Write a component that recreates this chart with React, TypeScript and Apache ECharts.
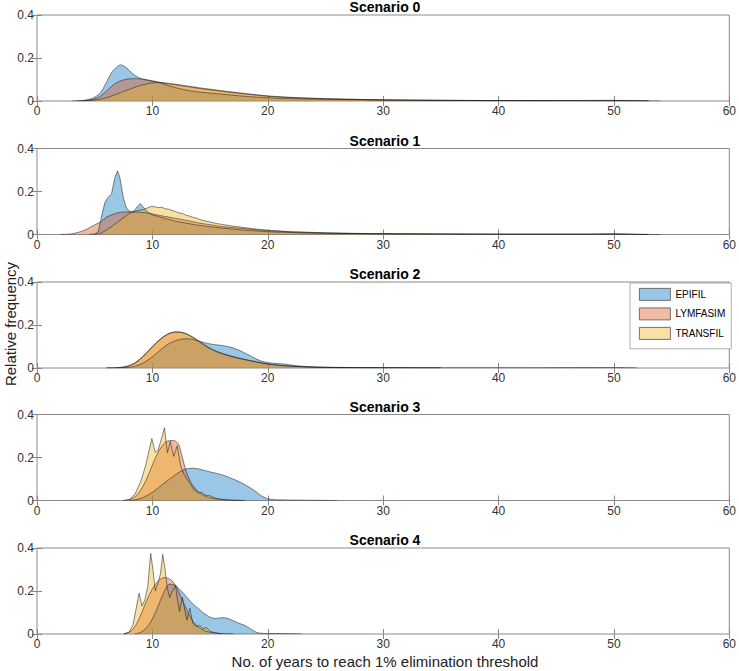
import React, { useEffect, useRef } from "react";
import * as echarts from "echarts";

const SCENARIOS = ["Scenario 0", "Scenario 1", "Scenario 2", "Scenario 3", "Scenario 4"];
const MODELS = ["EPIFIL", "LYMFASIM", "TRANSFIL"];
const MODEL_COLORS = ["#0072BD", "#D95319", "#EDB120"];
const LEGEND_COLORS = ["#99C7E5", "#F0BAA3", "#F8E0A6"];
const X_TITLE = "No. of years to reach 1% elimination threshold";
const Y_TITLE = "Relative frequency";

// Scenario 0
const S0_EPIFIL = [[3,0],[4,0.002],[4.5,0.007],[5,0.018],[5.5,0.038],[6,0.085],[6.5,0.135],[7,0.162],[7.25,0.168],[7.6,0.16],[8,0.142],[8.4,0.122],[9,0.104],[10,0.092],[10.5,0.087],[11,0.078],[12,0.062],[13,0.05],[14,0.042],[16,0.032],[18,0.022],[20,0.015],[22,0.011],[25,0.008],[30,0.005],[35,0.003],[40,0.002],[45,0.002],[50,0.003],[52,0.001],[54,0]];
const S0_LYMFASIM = [[3.5,0],[4,0.002],[4.5,0.005],[5,0.01],[5.5,0.022],[6,0.045],[6.5,0.07],[7,0.088],[7.5,0.098],[8,0.103],[8.5,0.104],[9,0.103],[9.5,0.099],[10,0.094],[10.5,0.088],[11,0.083],[12,0.075],[13,0.067],[14,0.059],[16,0.045],[18,0.033],[20,0.022],[22,0.016],[25,0.01],[28,0.007],[30,0.005],[35,0.003],[40,0.002],[45,0.001],[50,0.001],[53,0]];
const S0_TRANSFIL = [[4,0],[5,0.004],[5.5,0.008],[6,0.015],[6.5,0.024],[7,0.034],[7.5,0.044],[8,0.054],[8.5,0.064],[9,0.073],[9.5,0.079],[10,0.084],[10.5,0.086],[11,0.085],[12,0.078],[13,0.07],[14,0.062],[16,0.048],[18,0.035],[20,0.024],[22,0.017],[25,0.011],[28,0.007],[30,0.005],[35,0.003],[40,0.002],[45,0.001],[50,0.001],[53,0]];

// Scenario 1
const S1_EPIFIL = [[4.5,0],[5,0.003],[5.3,0.012],[5.46,0.05],[5.7,0.11],[5.9,0.152],[6.2,0.175],[6.46,0.19],[6.75,0.265],[6.98,0.296],[7.18,0.265],[7.47,0.175],[7.7,0.13],[7.9,0.113],[8.2,0.105],[8.45,0.112],[8.7,0.13],[8.96,0.144],[9.2,0.128],[9.6,0.103],[10,0.092],[11,0.076],[12,0.062],[13,0.052],[14,0.043],[15,0.036],[16,0.03],[17,0.025],[18,0.02],[20,0.013],[22,0.009],[25,0.005],[30,0.003],[40,0.002],[48,0.002],[50,0.004],[52,0.001],[54,0]];
const S1_LYMFASIM = [[2,0],[3,0.003],[3.7,0.012],[4.2,0.022],[4.6,0.033],[5.2,0.05],[5.6,0.062],[6,0.08],[6.5,0.092],[6.9,0.1],[7.4,0.104],[7.8,0.105],[8.3,0.105],[8.8,0.104],[9.3,0.102],[9.8,0.098],[10.3,0.092],[10.8,0.087],[11.3,0.082],[11.8,0.077],[12.3,0.072],[12.8,0.067],[13.3,0.062],[13.8,0.056],[14.3,0.051],[14.8,0.047],[15.4,0.042],[16,0.037],[17,0.032],[18,0.027],[19,0.022],[20,0.018],[22,0.012],[25,0.007],[28,0.004],[30,0.003],[35,0.002],[40,0.001],[50,0.001],[53,0]];
const S1_TRANSFIL = [[5,0],[5.5,0.005],[6,0.02],[6.5,0.038],[7,0.058],[7.5,0.078],[8,0.098],[8.5,0.108],[9,0.114],[9.3,0.117],[9.6,0.124],[9.9,0.131],[10.2,0.129],[10.5,0.125],[10.8,0.127],[11.1,0.12],[11.4,0.118],[11.7,0.112],[12,0.107],[12.3,0.1],[12.6,0.098],[12.9,0.09],[13.2,0.086],[13.5,0.08],[13.8,0.076],[14.1,0.07],[14.5,0.064],[15,0.058],[15.5,0.052],[16,0.047],[17,0.039],[18,0.032],[19,0.025],[20,0.02],[22,0.013],[25,0.008],[28,0.005],[30,0.004],[35,0.002],[40,0.001],[45,0.001],[50,0.001],[53,0]];

// Scenario 2
const S2_EPIFIL = [[7,0],[8,0.003],[8.5,0.008],[9,0.018],[9.5,0.033],[10,0.052],[10.5,0.075],[11,0.097],[11.5,0.115],[12,0.127],[12.5,0.134],[13,0.136],[13.5,0.133],[14,0.126],[14.5,0.118],[15,0.112],[15.5,0.108],[16,0.105],[16.5,0.1],[17,0.093],[17.5,0.083],[18,0.07],[18.5,0.056],[19,0.042],[19.5,0.031],[20,0.025],[20.5,0.022],[21,0.02],[21.5,0.018],[22,0.014],[23,0.008],[24,0.005],[26,0.003],[30,0.001],[40,0.001],[50,0.002],[52,0]];
const S2_LYMFASIM = [[6,0],[7,0.002],[7.5,0.005],[8,0.012],[8.5,0.025],[9,0.046],[9.5,0.072],[10,0.1],[10.5,0.126],[11,0.148],[11.5,0.162],[12,0.168],[12.5,0.166],[13,0.157],[13.5,0.142],[14,0.124],[14.5,0.106],[15,0.09],[15.5,0.077],[16,0.067],[17,0.051],[18,0.039],[19,0.028],[20,0.018],[21,0.012],[22,0.008],[24,0.004],[26,0.002],[30,0.001],[35,0]];
const S2_TRANSFIL = [[6,0],[7,0.001],[7.5,0.004],[8,0.01],[8.5,0.022],[9,0.043],[9.5,0.069],[10,0.098],[10.5,0.124],[11,0.146],[11.5,0.161],[12,0.167],[12.5,0.166],[13,0.158],[13.5,0.144],[14,0.127],[14.5,0.109],[15,0.092],[15.5,0.079],[16,0.069],[17,0.053],[18,0.04],[19,0.029],[20,0.019],[21,0.013],[22,0.009],[24,0.004],[26,0.002],[30,0.001],[35,0]];

// Scenario 3
const S3_EPIFIL = [[8,0],[8.5,0.003],[9,0.01],[9.5,0.022],[10,0.038],[10.5,0.058],[11,0.08],[11.5,0.1],[12,0.12],[12.5,0.137],[13,0.148],[13.5,0.15],[14,0.147],[14.5,0.14],[15,0.133],[15.5,0.127],[16,0.12],[16.5,0.111],[17,0.1],[17.5,0.088],[18,0.074],[18.5,0.058],[19,0.04],[19.5,0.02],[20,0.008],[20.5,0.004],[21,0.003],[22,0.002],[24,0.001],[26,0]];
const S3_LYMFASIM = [[7.5,0],[8,0.004],[8.5,0.018],[9,0.05],[9.5,0.1],[10,0.165],[10.5,0.225],[11,0.264],[11.3,0.276],[11.7,0.279],[12,0.276],[12.3,0.258],[12.6,0.2],[12.9,0.14],[13.2,0.1],[13.5,0.07],[14,0.04],[14.5,0.022],[15,0.012],[16,0.004],[17,0.001],[18,0]];
const S3_TRANSFIL = [[7.5,0],[8,0.005],[8.5,0.03],[9,0.09],[9.4,0.16],[9.7,0.23],[9.95,0.288],[10.25,0.225],[10.5,0.235],[10.8,0.29],[11.05,0.338],[11.3,0.222],[11.55,0.275],[11.85,0.205],[12.15,0.255],[12.45,0.16],[12.75,0.12],[13,0.1],[13.3,0.075],[13.6,0.05],[14,0.035],[14.3,0.038],[14.6,0.024],[15,0.022],[15.4,0.012],[16,0.005],[17,0.001],[18,0]];

// Scenario 4
const S4_EPIFIL = [[8.5,0],[9,0.008],[9.5,0.03],[10,0.07],[10.5,0.13],[11,0.195],[11.5,0.232],[12,0.226],[12.5,0.2],[13,0.17],[13.5,0.14],[14,0.118],[14.5,0.095],[15,0.078],[15.5,0.072],[16,0.076],[16.5,0.073],[17,0.062],[17.5,0.05],[18,0.04],[18.5,0.025],[19,0.008],[19.5,0.003],[20,0.002],[21,0.002],[22,0.001],[23,0]];
const S4_LYMFASIM = [[7.5,0],[8,0.008],[8.5,0.035],[9,0.09],[9.5,0.155],[10,0.21],[10.5,0.247],[11,0.262],[11.5,0.256],[12,0.226],[12.5,0.17],[13,0.11],[13.5,0.06],[14,0.032],[14.5,0.016],[15,0.008],[16,0.002],[17,0]];
const S4_TRANSFIL = [[7.5,0],[8,0.01],[8.3,0.04],[8.6,0.12],[8.85,0.19],[9.1,0.13],[9.35,0.16],[9.6,0.22],[9.85,0.375],[10.05,0.3],[10.25,0.2],[10.5,0.24],[10.7,0.28],[10.9,0.37],[11.1,0.3],[11.3,0.21],[11.5,0.17],[11.75,0.2],[12,0.225],[12.2,0.15],[12.35,0.105],[12.6,0.17],[12.85,0.1],[13,0.065],[13.25,0.12],[13.5,0.05],[13.8,0.035],[14.1,0.04],[14.4,0.025],[14.7,0.03],[15,0.012],[15.5,0.005],[16,0]];

const DATA = [
  [S0_EPIFIL, S0_LYMFASIM, S0_TRANSFIL],
  [S1_EPIFIL, S1_LYMFASIM, S1_TRANSFIL],
  [S2_EPIFIL, S2_LYMFASIM, S2_TRANSFIL],
  [S3_EPIFIL, S3_LYMFASIM, S3_TRANSFIL],
  [S4_EPIFIL, S4_LYMFASIM, S4_TRANSFIL],
];
// whether a curve is drawn smoothed (kernel density) or as raw jagged outline
const SMOOTH = [
  [true, true, true],
  [false, true, false],
  [true, true, true],
  [true, true, false],
  [true, true, false],
];

const FONT = "Liberation Sans, Arial, Helvetica, sans-serif";
const GRID_TOPS = [15, 148.5, 282, 414.5, 548];
const GRID_H = 86;
const GRID_LEFT = 37;
const GRID_W = 696;

export default function App() {
  const ref = useRef<HTMLDivElement>(null);
  useEffect(() => {
    if (!ref.current) return;
    const chart = echarts.init(ref.current, undefined, { renderer: "svg" });
    const grids: any[] = [];
    const xAxes: any[] = [];
    const yAxes: any[] = [];
    const series: any[] = [];
    const graphics: any[] = [];
    const tickStyle = { show: true, inside: true, length: 5, lineStyle: { color: "#888", width: 1 } };
    GRID_TOPS.forEach((top, i) => {
      grids.push({
        left: GRID_LEFT, width: GRID_W, top, height: GRID_H,
        show: true, borderColor: "#8a8a8a", borderWidth: 1, backgroundColor: "transparent",
      });
      xAxes.push({
        gridIndex: i, type: "value", min: 0, max: 60, interval: 10, position: "bottom",
        axisLine: { show: false }, axisTick: tickStyle, splitLine: { show: false },
        axisLabel: { fontSize: 12, color: "#333", margin: 4, fontFamily: FONT },
      });
      xAxes.push({
        gridIndex: i, type: "value", min: 0, max: 60, interval: 10, position: "top",
        axisLine: { show: false }, axisTick: tickStyle, splitLine: { show: false },
        axisLabel: { show: false },
      });
      yAxes.push({
        gridIndex: i, type: "value", min: 0, max: 0.4, interval: 0.2, position: "left",
        axisLine: { show: false }, axisTick: tickStyle, splitLine: { show: false },
        axisLabel: { fontSize: 12, color: "#333", margin: 3, fontFamily: FONT },
      });
      yAxes.push({
        gridIndex: i, type: "value", min: 0, max: 0.4, interval: 0.2, position: "right",
        axisLine: { show: false }, axisTick: tickStyle, splitLine: { show: false },
        axisLabel: { show: false },
      });
      DATA[i].forEach((d, m) => {
        series.push({
          name: MODELS[m], type: "line", xAxisIndex: i * 2, yAxisIndex: i * 2,
          data: d, showSymbol: false, symbol: "none",
          smooth: SMOOTH[i][m] ? 0.3 : false,
          itemStyle: { color: MODEL_COLORS[m] },
          lineStyle: { color: "#1a1a1a", width: 0.7, opacity: 0.75 },
          areaStyle: { color: MODEL_COLORS[m], opacity: 0.4 },
          silent: true,
        });
      });
      graphics.push({
        type: "text", x: GRID_LEFT + GRID_W / 2, y: top - 8,
        style: { text: SCENARIOS[i], textAlign: "center", textVerticalAlign: "middle",
          font: `bold 14px ${FONT}`, fill: "#000" },
      });
    });
    graphics.push({
      type: "text", x: GRID_LEFT + GRID_W / 2, y: 661,
      style: { text: X_TITLE, textAlign: "center", textVerticalAlign: "middle", font: `15px ${FONT}`, fill: "#222" },
    });
    graphics.push({
      type: "text", x: 10, y: 324, rotation: Math.PI / 2,
      style: { text: Y_TITLE, textAlign: "center", textVerticalAlign: "middle", font: `15px ${FONT}`, fill: "#222" },
    });
    chart.setOption({
      animation: false,
      grid: grids, xAxis: xAxes, yAxis: yAxes, series,
      graphic: graphics,
      legend: {
        data: MODELS.map((name, m) => ({ name, icon: "rect", itemStyle: { color: LEGEND_COLORS[m], borderColor: "#555", borderWidth: 0.8 } })),
        orient: "vertical", left: 630, top: 283,
        itemWidth: 31, itemHeight: 12, itemGap: 6.7,
        padding: [5, 6, 9, 9],
        backgroundColor: "#fff", borderColor: "#999", borderWidth: 0.8,
        textStyle: { fontSize: 10, color: "#000", fontFamily: FONT },
        selectedMode: false,
      },
    });
    return () => chart.dispose();
  }, []);
  return <div ref={ref} style={{ position: "absolute", left: 0, top: 0, width: 739, height: 671 }} />;
}
